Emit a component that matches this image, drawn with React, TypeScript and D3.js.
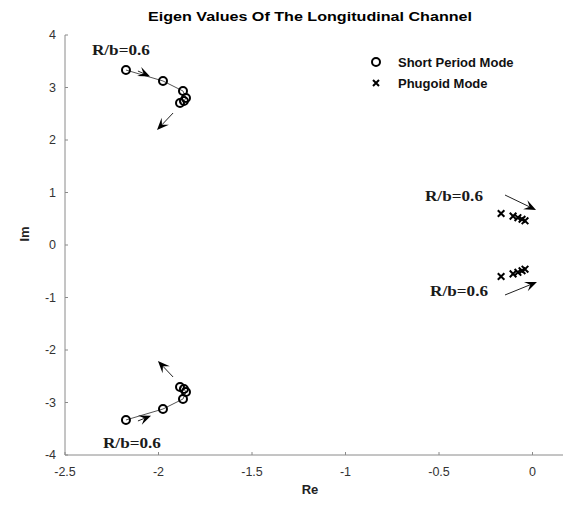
import React from "react";
import * as d3 from "d3";

const W = 563, H = 506;
const xTicks = [-2.5, -2, -1.5, -1, -0.5, 0];
const yTicks = [-4, -3, -2, -1, 0, 1, 2, 3, 4];

const spUpperRe = [-2.174, -1.976, -1.869, -1.853, -1.864, -1.885];
const spUpperIm = [3.333, 3.124, 2.933, 2.8, 2.743, 2.705];
const spLowerRe = [-2.174, -1.976, -1.869, -1.853, -1.864, -1.885];
const spLowerIm = [-3.333, -3.124, -2.933, -2.8, -2.743, -2.705];

const phUpperRe = [-0.168, -0.104, -0.078, -0.056, -0.04];
const phUpperIm = [0.6, 0.55, 0.52, 0.49, 0.46];
const phLowerRe = [-0.168, -0.104, -0.078, -0.056, -0.04];
const phLowerIm = [-0.6, -0.55, -0.52, -0.49, -0.46];

// arrows: [x1, y1, x2, y2]
const arrows = [
  [-2.11, 3.314, -2.045, 3.21],
  [-1.922, 2.514, -2.008, 2.19],
  [-2.11, -3.352, -2.04, -3.25],
  [-1.922, -2.514, -2.003, -2.21],
  [-0.147, 0.952, 0.019, 0.667],
  [-0.147, -0.952, 0.024, -0.705],
];

const labelText = "R/b=0.6";
const labelX = [-2.356, -2.297, -0.575, -0.548];
const labelY = [3.62, -3.867, 0.838, -0.971];

const x = d3.scaleLinear().domain([-2.5, 0.2]).range([65, 65 + 2.7 * 187]);
const y = d3.scaleLinear().domain([-4, 4]).range([455, 35]);

function Circles({ re, im }: { re: number[]; im: number[] }) {
  const pts = re.map((v, i) => [x(v), y(im[i])] as [number, number]);
  const line = d3.line()(pts) || "";
  return (
    <g>
      <path d={line} fill="none" stroke="#555" strokeWidth={1} />
      {pts.map((p, i) => (
        <circle key={i} cx={p[0]} cy={p[1]} r={4} fill="none" stroke="#000" strokeWidth={2} />
      ))}
    </g>
  );
}

function Crosses({ re, im }: { re: number[]; im: number[] }) {
  const s = 3.3;
  return (
    <g stroke="#000" strokeWidth={2}>
      {re.map((v, i) => {
        const cx = x(v), cy = y(im[i]);
        return (
          <path key={i} d={`M${cx - s},${cy - s}L${cx + s},${cy + s}M${cx - s},${cy + s}L${cx + s},${cy - s}`} />
        );
      })}
    </g>
  );
}

function Arrow({ a }: { a: number[] }) {
  const x1 = x(a[0]), y1 = y(a[1]), x2 = x(a[2]), y2 = y(a[3]);
  const ang = Math.atan2(y2 - y1, x2 - x1);
  const L = 12, w = 5;
  const bx = x2 - L * Math.cos(ang), by = y2 - L * Math.sin(ang);
  const nx = -Math.sin(ang), ny = Math.cos(ang);
  const ix = x2 - 0.6 * L * Math.cos(ang), iy = y2 - 0.6 * L * Math.sin(ang);
  const head = `M${x2},${y2}L${bx + nx * w},${by + ny * w}L${ix},${iy}L${bx - nx * w},${by - ny * w}Z`;
  return (
    <g>
      <line x1={x1} y1={y1} x2={ix} y2={iy} stroke="#222" strokeWidth={1} />
      <path d={head} fill="#000" />
    </g>
  );
}

export default function App() {
  const x0 = x(-2.5), y0 = y(-4);
  return (
    <svg width={W} height={H} style={{ position: "absolute", left: 0, top: 0, background: "#fff" }}
      fontFamily="Liberation Sans, Arial, sans-serif">
      <rect width={W} height={H} fill="#fff" />
      <text x={310} y={21} textAnchor="middle" fontSize={13} fontWeight="bold" textLength={324} lengthAdjust="spacingAndGlyphs">
        Eigen Values Of The Longitudinal Channel
      </text>
      {/* axes */}
      <line x1={x0} y1={y0} x2={W} y2={y0} stroke="#8a8a8a" strokeWidth={1} />
      <line x1={x0} y1={y0} x2={x0} y2={y(4)} stroke="#8a8a8a" strokeWidth={1} />
      {xTicks.map((t) => (
        <g key={"x" + t}>
          <line x1={x(t)} x2={x(t)} y1={y0} y2={y0 - 3} stroke="#8a8a8a" />
          <text x={x(t)} y={476} textAnchor="middle" fontSize={12.5} fill="#333">{t}</text>
        </g>
      ))}
      {yTicks.map((t) => (
        <g key={"y" + t}>
          <line x1={x0} x2={x0 + 3} y1={y(t)} y2={y(t)} stroke="#8a8a8a" />
          <text x={56} y={y(t) + 4} textAnchor="end" fontSize={12.5} fill="#333">{t}</text>
        </g>
      ))}
      <text x={310} y={494} textAnchor="middle" fontSize={13} fontWeight="bold" fill="#222">Re</text>
      <text transform={`translate(29,234) rotate(-90)`} textAnchor="middle" fontSize={13} fontWeight="bold" fill="#222">Im</text>

      <Circles re={spUpperRe} im={spUpperIm} />
      <Circles re={spLowerRe} im={spLowerIm} />
      <Crosses re={phUpperRe} im={phUpperIm} />
      <Crosses re={phLowerRe} im={phLowerIm} />
      {arrows.map((a, i) => <Arrow key={i} a={a} />)}

      {labelX.map((lx, i) => (
        <text key={i} x={x(lx)} y={y(labelY[i])} fontFamily="Liberation Serif, Times New Roman, serif"
          fontWeight="bold" fontSize={15} fill="#1a1a1a" textLength={58} lengthAdjust="spacingAndGlyphs">
          {labelText}
        </text>
      ))}

      {/* legend */}
      <circle cx={376} cy={62} r={4} fill="none" stroke="#000" strokeWidth={2} />
      <text x={398} y={67} fontSize={13} fontWeight="bold" fill="#111">Short Period Mode</text>
      <path d="M373,80L379,86M373,86L379,80" stroke="#000" strokeWidth={2} />
      <text x={398} y={88} fontSize={13} fontWeight="bold" fill="#111">Phugoid Mode</text>
    </svg>
  );
}
